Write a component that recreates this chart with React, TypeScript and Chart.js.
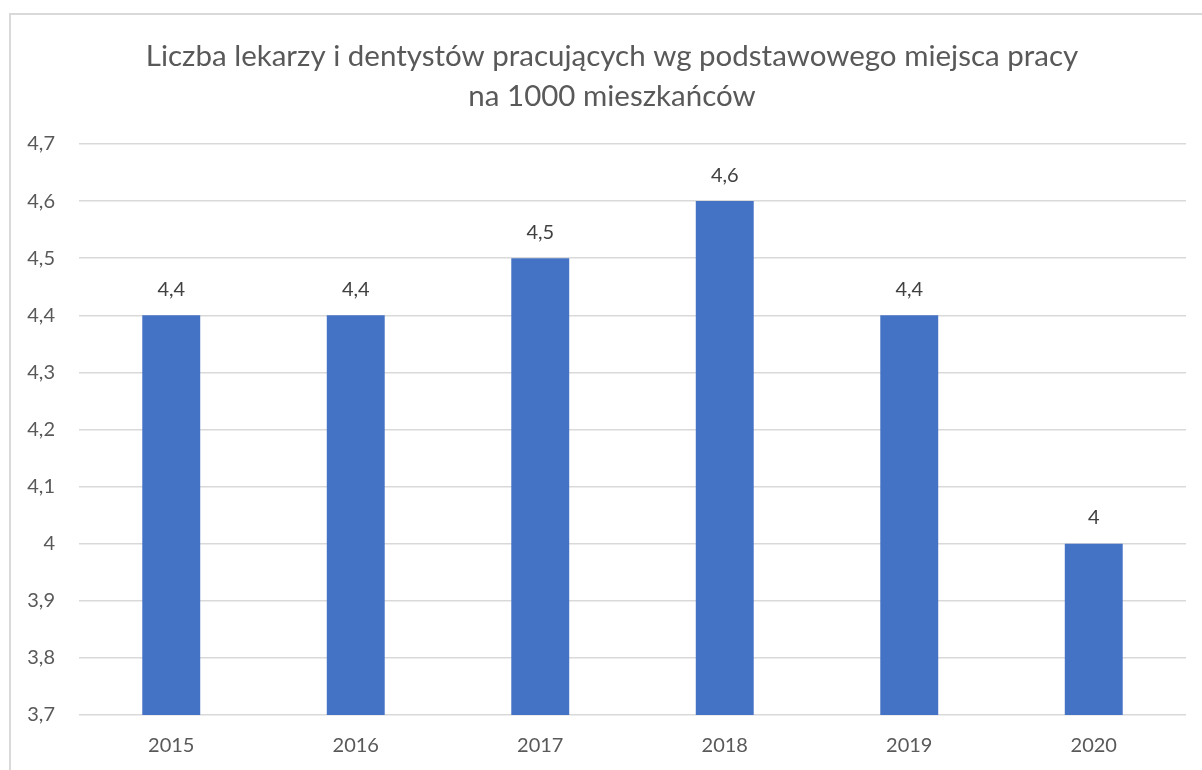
import React, { useEffect, useRef } from "react";
import { Chart, registerables } from "chart.js";

Chart.register(...registerables);

const categories = ["2015", "2016", "2017", "2018", "2019", "2020"];
const values = [4.4, 4.4, 4.5, 4.6, 4.4, 4.0];
const titleLines = [
  "Liczba lekarzy i dentystów pracujących wg podstawowego miejsca pracy",
  "na 1000 mieszkańców",
];
const yMin = 3.7;
const yMax = 4.7;
const yStep = 0.1;

const FONT = "Lato, 'Open Sans', sans-serif";

const fmt = (v: number) => String(Math.round(v * 10) / 10).replace(".", ",");

const dataLabels = {
  id: "dataLabels",
  afterDatasetsDraw(chart: any) {
    const ctx = chart.ctx;
    const meta = chart.getDatasetMeta(0);
    ctx.save();
    ctx.fillStyle = "#404040";
    ctx.font = `20px ${FONT}`;
    ctx.textAlign = "center";
    ctx.textBaseline = "middle";
    meta.data.forEach((bar: any, i: number) => {
      ctx.fillText(fmt(values[i]), bar.x, bar.y - 26);
    });
    ctx.restore();
  },
};

const chartTitle = {
  id: "chartTitle",
  afterDraw(chart: any) {
    const ctx = chart.ctx;
    ctx.save();
    ctx.fillStyle = "#595959";
    ctx.font = `29.5px ${FONT}`;
    ctx.textAlign = "center";
    ctx.textBaseline = "middle";
    const cx = chart.width / 2 + 5.5;
    titleLines.forEach((line, i) => {
      ctx.fillText(line, cx, 41 + i * 40);
    });
    ctx.restore();
  },
};

export default function App() {
  const ref = useRef<HTMLCanvasElement>(null);
  useEffect(() => {
    if (!ref.current) return;
    const chart = new Chart(ref.current, {
      type: "bar",
      data: {
        labels: categories,
        datasets: [
          {
            data: values,
            backgroundColor: "#4472C4",
            barPercentage: 1,
            categoryPercentage: 0.314,
          },
        ],
      },
      options: {
        animation: false,
        responsive: true,
        maintainAspectRatio: false,
        layout: { padding: { left: 16, right: 16, top: 129, bottom: 0 } },
        plugins: {
          legend: { display: false },
          tooltip: { enabled: false },
          title: { display: false },
        },
        scales: {
          x: {
            grid: { display: false, drawTicks: false },
            border: { display: false },
            ticks: { color: "#595959", font: { family: FONT, size: 20 }, padding: 19 },
            afterFit: (s: any) => {
              s.height = 55;
            },
          },
          y: {
            min: yMin,
            max: yMax,
            grid: { color: "#d9d9d9", lineWidth: 1.5, drawTicks: false },
            border: { display: false },
            ticks: {
              stepSize: yStep,
              color: "#595959",
              font: { family: FONT, size: 20 },
              padding: 24,
              callback: (v: any) => fmt(Number(v)),
            },
            afterFit: (s: any) => {
              s.width = 52;
            },
          },
        },
      },
      plugins: [dataLabels, chartTitle],
    });
    return () => chart.destroy();
  }, []);
  return (
    <div
      style={{
        position: "fixed",
        left: 9,
        top: 13,
        width: 1193,
        height: 757,
        borderTop: "2px solid #d9d9d9",
        borderLeft: "2px solid #d9d9d9",
        boxSizing: "border-box",
        overflow: "hidden",
        background: "#fff",
      }}
    >
      <canvas ref={ref} />
    </div>
  );
}
